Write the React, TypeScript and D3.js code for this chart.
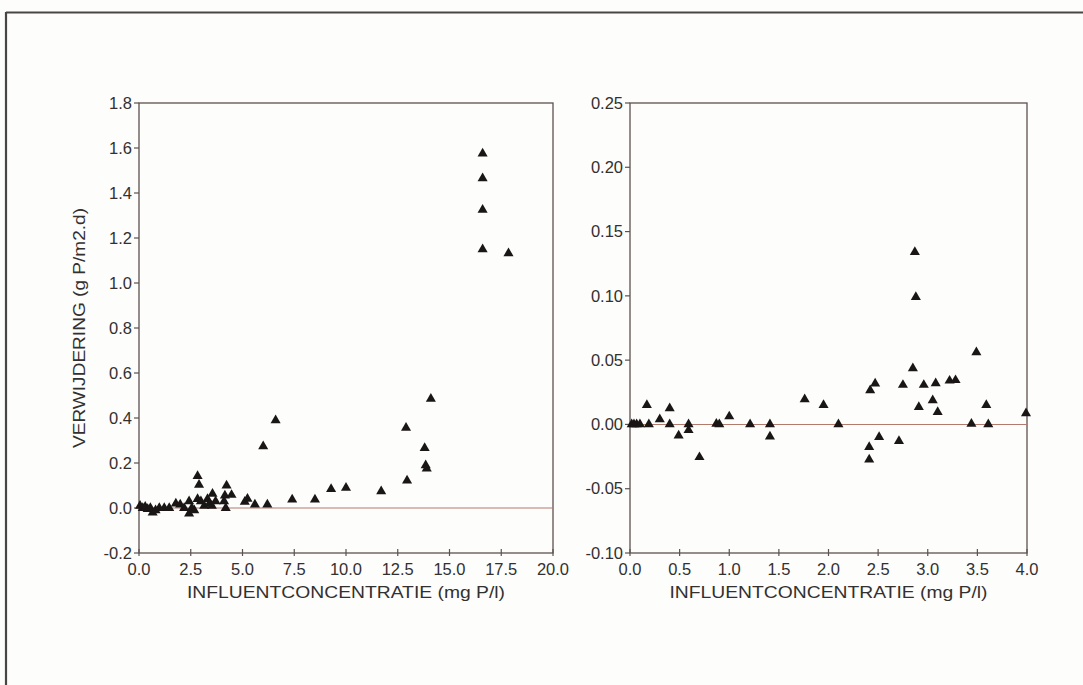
import React from 'react';
import * as d3 from 'd3';

// left panel: influent concentration (mg P/l) vs removal (g P/m2.d)
const leftX = [0.05, 0.18, 0.3, 0.42, 0.55, 0.66, 0.8, 0.98, 1.22, 1.46, 1.78, 1.99, 2.18, 2.42, 2.42, 2.55, 2.67, 2.83, 2.83, 2.9, 2.99, 3.15, 3.31, 3.4, 3.52, 3.55, 3.7, 4.11, 4.15, 4.19, 4.23, 4.47, 5.11, 5.24, 5.6, 6.0, 6.2, 6.6, 7.4, 8.5, 9.28, 10.0, 11.7, 12.9, 12.95, 13.8, 13.85, 13.9, 14.1, 16.6, 16.6, 16.6, 16.6, 17.85];
const leftY = [0.01, 0.0, 0.005, -0.005, 0.0, -0.02, -0.01, 0.0, 0.0, 0.0, 0.02, 0.015, 0.0, -0.025, 0.03, 0.0, -0.01, 0.04, 0.142, 0.103, 0.03, 0.01, 0.04, 0.02, 0.01, 0.063, 0.03, 0.03, 0.055, 0.0, 0.1, 0.058, 0.027, 0.041, 0.015, 0.274, 0.015, 0.39, 0.037, 0.037, 0.084, 0.09, 0.074, 0.356, 0.122, 0.266, 0.19, 0.175, 0.485, 1.575, 1.465, 1.325, 1.15, 1.132];

// right panel: zoom on the low range
const rightX = [0.017, 0.04, 0.067, 0.1, 0.17, 0.19, 0.3, 0.4, 0.4, 0.49, 0.59, 0.59, 0.7, 0.87, 0.9, 1.0, 1.21, 1.41, 1.41, 1.76, 1.95, 2.1, 2.41, 2.41, 2.42, 2.47, 2.51, 2.71, 2.75, 2.85, 2.87, 2.88, 2.91, 2.96, 3.05, 3.08, 3.1, 3.22, 3.28, 3.44, 3.49, 3.59, 3.61, 3.99];
const rightY = [0, 0, 0, 0, 0.015, 0, 0.004, 0.0125, 0, -0.0086, 0, -0.0045, -0.0255, 0.0005, 0, 0.0062, 0, 0, -0.0094, 0.0195, 0.015, 0, -0.0177, -0.0273, 0.0265, 0.0317, -0.0099, -0.013, 0.0307, 0.0437, 0.134, 0.099, 0.0135, 0.0307, 0.0188, 0.032, 0.0096, 0.034, 0.0344, 0.0005, 0.056, 0.015, 0, 0.0086];

const leftXTicks = [0, 2.5, 5, 7.5, 10, 12.5, 15, 17.5, 20];
const leftYTicks = [-0.2, 0, 0.2, 0.4, 0.6, 0.8, 1.0, 1.2, 1.4, 1.6, 1.8];
const rightXTicks = [0, 0.5, 1, 1.5, 2, 2.5, 3, 3.5, 4];
const rightYTicks = [-0.1, -0.05, 0, 0.05, 0.1, 0.15, 0.2, 0.25];

const xTitle = 'INFLUENTCONCENTRATIE (mg P/l)';
const yTitle = 'VERWIJDERING (g P/m2.d)';

const FONT = '"Liberation Sans", Arial, sans-serif';
const TXT = '#333030';
const AXIS = '#5c5250';

type PanelProps = {
  xs: number[];
  ys: number[];
  xDomain: [number, number];
  yDomain: [number, number];
  xRange: [number, number];
  xTicks: number[];
  yTicks: number[];
  yFmt: string;
  yLabel?: string;
};

const TOP = 103;
const BOTTOM = 553;

// scanned original uses a plain hyphen for negatives
const fmt = (spec: string) => {
  const f = d3.format(spec);
  return (v: number) => f(v).replace('\u2212', '-');
};

const Panel = (props: PanelProps) => {
  const { xs, ys, xDomain, yDomain, xRange, xTicks, yTicks, yFmt, yLabel } = props;
  const x = d3.scaleLinear().domain(xDomain).range(xRange);
  const y = d3.scaleLinear().domain(yDomain).range([BOTTOM, TOP]);
  const fx = fmt('.1f');
  const fy = fmt(yFmt);
  const tri = d3.symbol().type(d3.symbolTriangle).size(44)();
  const [x0, x1] = xRange;

  return (
    <g>
      <rect x={x0} y={TOP} width={x1 - x0} height={BOTTOM - TOP} fill="none" stroke={AXIS} strokeWidth={1.3} />
      <line x1={x0} x2={x1} y1={y(0)} y2={y(0)} stroke="#b27a6c" strokeWidth={1.1} />
      {yTicks.map((t) => (
        <g key={'y' + t} transform={`translate(${x0},${y(t)})`}>
          <line x1={-5} x2={0} stroke={AXIS} strokeWidth={1.2} />
          <text x={-7} dy="0.35em" textAnchor="end" fontSize={16.5} fill={TXT} fontFamily={FONT}>
            {fy(t)}
          </text>
        </g>
      ))}
      {xTicks.map((t) => (
        <g key={'x' + t} transform={`translate(${x(t)},${BOTTOM})`}>
          <line y1={-4} y2={3} stroke={AXIS} strokeWidth={1.2} />
          <text y={22} textAnchor="middle" fontSize={16.5} fill={TXT} fontFamily={FONT}>
            {fx(t)}
          </text>
        </g>
      ))}
      <text
        x={(x0 + x1) / 2}
        y={598}
        textAnchor="middle"
        fontSize={16.5}
        fill={TXT}
        fontFamily={FONT}
        textLength={318}
        lengthAdjust="spacingAndGlyphs"
      >
        {xTitle}
      </text>
      {yLabel && (
        <text
          transform={`translate(85,${(TOP + BOTTOM) / 2}) rotate(-90)`}
          textAnchor="middle"
          fontSize={16.5}
          fill={TXT}
          fontFamily={FONT}
          textLength={240}
          lengthAdjust="spacingAndGlyphs"
        >
          {yLabel}
        </text>
      )}
      {xs.map((v, i) => (
        <path key={i} d={tri || ''} transform={`translate(${x(v)},${y(ys[i])})`} fill="#1a1616" />
      ))}
    </g>
  );
};

export default function App() {
  return (
    <svg
      width={1083}
      height={685}
      style={{ position: 'absolute', left: 0, top: 0, background: '#fdfdfc' }}
    >
      <line x1={6} x2={1083} y1={12.5} y2={12.5} stroke="#4a4444" strokeWidth={2.2} />
      <line x1={6} x2={6} y1={12} y2={685} stroke="#4a4444" strokeWidth={2.2} />
      <Panel
        xs={leftX}
        ys={leftY}
        xDomain={[0, 20]}
        yDomain={[-0.2, 1.8]}
        xRange={[139, 553]}
        xTicks={leftXTicks}
        yTicks={leftYTicks}
        yFmt=".1f"
        yLabel={yTitle}
      />
      <Panel
        xs={rightX}
        ys={rightY}
        xDomain={[0, 4]}
        yDomain={[-0.1, 0.25]}
        xRange={[630, 1027]}
        xTicks={rightXTicks}
        yTicks={rightYTicks}
        yFmt=".2f"
      />
    </svg>
  );
}
